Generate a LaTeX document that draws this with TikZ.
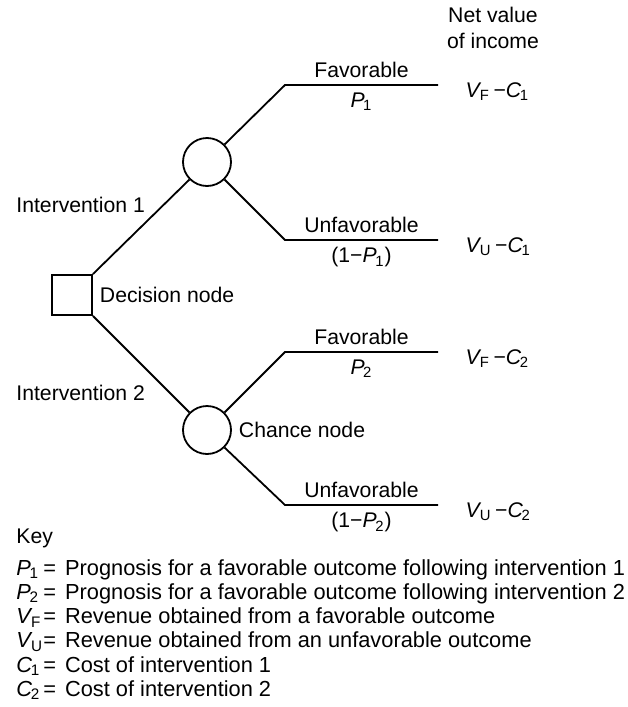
\documentclass[tikz,border=0pt]{standalone}
\usepackage{fontspec}
\setmainfont{Liberation Sans}
\usetikzlibrary{positioning}

\newcommand{\varsub}[2]{\textit{#1}\kern-0.7pt\textsubscript{#2}}
\newcommand{\keysym}[2]{\makebox[12.5pt][l]{\varsub{#1}{#2}}}

\begin{document}
\begin{tikzpicture}[
  x=0.5pt, y=-0.5pt,
  every node/.style={font=\fontsize{10.6}{12.1}\selectfont},
  decision/.style={rectangle, draw, line width=0.9pt, minimum size=20pt, inner sep=0pt},
  chance/.style={circle, draw, line width=0.9pt, minimum size=24pt, inner sep=0pt},
  branch/.style={line width=0.9pt},
  value/.style={anchor=base west, xshift=10pt, yshift=-6pt},
  plain/.style={anchor=west, inner sep=0pt},
]
\useasboundingbox (0,0) rectangle (627,707);

% Nodes of the tree
\node[decision] (sq) at (72,295) {};
\node[chance] (c1) at (207,162) {};
\node[chance] (c2) at (207,430) {};
\node[right=0pt of sq] (decl) {Decision node};
\node[right=0pt of c2] (chancel) {Chance node};

% Bends and ends of the outcome lines
\coordinate (b1) at (285,85);  \coordinate (f1) at (438,85);
\coordinate (b2) at (285,240); \coordinate (f2) at (438,240);
\coordinate (b3) at (285,352); \coordinate (f3) at (438,352);
\coordinate (b4) at (285,505); \coordinate (f4) at (438,505);

% Interventions
\draw[branch] (sq.north east) -- (c1.south west);
\draw[branch] (sq.south east) -- (c2.north west);
\node[plain] (int1) at (16,205) {Intervention 1};
\node[plain] (int2) at (16,393) {Intervention 2};

% Outcomes
\draw[branch] (c1.north east) -- (b1) -- node[above] {Favorable} node[below] {\varsub{P}{1}} (f1)
  node[value] (v1) {\varsub{V}{F}\,−\varsub{C}{1}};
\draw[branch] (c1.south east) -- (b2) -- node[above] {Unfavorable} node[below] {(1−\varsub{P}{1})} (f2)
  node[value] (v2) {\varsub{V}{U}\,−\varsub{C}{1}};
\draw[branch] (c2.north east) -- (b3) -- node[above] {Favorable} node[below] {\varsub{P}{2}} (f3)
  node[value] (v3) {\varsub{V}{F}\,−\varsub{C}{2}};
\draw[branch] (c2.south east) -- (b4) -- node[above] {Unfavorable} node[below] {(1−\varsub{P}{2})} (f4)
  node[value] (v4) {\varsub{V}{U}\,−\varsub{C}{2}};

\node[align=center, font=\fontsize{10.6}{13}\selectfont] (net) at (493,28) {Net value\\of income};

% Key
\node[plain] (key) at (16,538) {Key};
\node[anchor=north west, inner sep=0pt, font=\fontsize{10.9}{12.1}\selectfont] (keytab) at (16,558) {%
  \begin{tabular}{@{}l@{\hspace{1pt}=\hspace{4.5pt}}l@{}}
  \keysym{P}{1} & Prognosis for a favorable outcome following intervention 1\\
  \keysym{P}{2} & Prognosis for a favorable outcome following intervention 2\\
  \keysym{V}{F} & Revenue obtained from a favorable outcome\\
  \keysym{V}{U} & Revenue obtained from an unfavorable outcome\\
  \keysym{C}{1} & Cost of intervention 1\\
  \keysym{C}{2} & Cost of intervention 2
  \end{tabular}};
\end{tikzpicture}
\end{document}
